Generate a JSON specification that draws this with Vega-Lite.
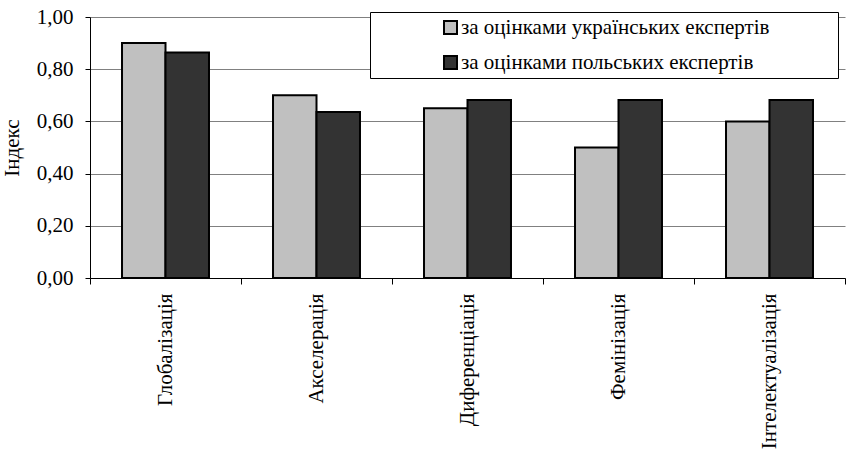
{
  "$schema": "https://vega.github.io/schema/vega-lite/v6.json",
  "width": 755,
  "height": 261,
  "autosize": "none",
  "padding": {"left": 90, "top": 17, "right": 2, "bottom": 171},
  "background": "white",
  "config": {
    "view": {"stroke": null},
    "font": "Liberation Serif"
  },
  "data": {
    "values": [
      {"category": "Глобалізація", "series": "за оцінками українських експертів", "value": 0.90},
      {"category": "Глобалізація", "series": "за оцінками польських експертів", "value": 0.864},
      {"category": "Акселерація", "series": "за оцінками українських експертів", "value": 0.70},
      {"category": "Акселерація", "series": "за оцінками польських експертів", "value": 0.636},
      {"category": "Диференціація", "series": "за оцінками українських експертів", "value": 0.65},
      {"category": "Диференціація", "series": "за оцінками польських експертів", "value": 0.682},
      {"category": "Фемінізація", "series": "за оцінками українських експертів", "value": 0.50},
      {"category": "Фемінізація", "series": "за оцінками польських експертів", "value": 0.682},
      {"category": "Інтелектуалізація", "series": "за оцінками українських експертів", "value": 0.60},
      {"category": "Інтелектуалізація", "series": "за оцінками польських експертів", "value": 0.682}
    ]
  },
  "mark": {"type": "bar", "stroke": "black", "strokeWidth": 2},
  "encoding": {
    "x": {
      "field": "category",
      "type": "nominal",
      "sort": null,
      "scale": {"paddingInner": 0, "paddingOuter": 0},
      "axis": {
        "title": null,
        "tickBand": "extent",
        "labelAngle": -90,
        "labelAlign": "right",
        "labelBaseline": "middle",
        "labelFont": "Liberation Serif",
        "labelFontSize": 21,
        "labelColor": "black",
        "labelPadding": 9,
        "labelLimit": 400,
        "domainColor": "black",
        "domainWidth": 1,
        "tickColor": "black",
        "tickSize": 6,
        "grid": false
      }
    },
    "xOffset": {
      "field": "series",
      "sort": null,
      "scale": {"paddingInner": 0, "paddingOuter": 0.736}
    },
    "y": {
      "field": "value",
      "type": "quantitative",
      "scale": {"domain": [0, 1], "nice": false},
      "axis": {
        "title": "Індекс",
        "titleFont": "Liberation Serif",
        "titleFontSize": 21,
        "titleFontWeight": "normal",
        "titleColor": "black",
        "titlePadding": 14,
        "values": [0, 0.2, 0.4, 0.6, 0.8, 1.0],
        "labelExpr": "replace(format(datum.value, '.2f'), '.', ',')",
        "labelFont": "Liberation Serif",
        "labelFontSize": 21,
        "labelColor": "black",
        "labelPadding": 12,
        "domainColor": "black",
        "tickColor": "black",
        "tickSize": 5,
        "gridColor": "#808080",
        "gridWidth": 1
      }
    },
    "fill": {
      "field": "series",
      "type": "nominal",
      "scale": {
        "domain": ["за оцінками українських експертів", "за оцінками польських експертів"],
        "range": ["#c0c0c0", "#333333"]
      },
      "legend": {
        "title": null,
        "orient": "none",
        "legendX": 280,
        "legendY": -5,
        "strokeColor": "black",
        "fillColor": "white",
        "padding": 5,
        "symbolType": "square",
        "symbolSize": 169,
        "symbolStrokeColor": "black",
        "symbolStrokeWidth": 2,
        "symbolOffset": 65,
        "labelOffset": 0,
        "labelExpr": "datum.label + '\u00a0\u00a0\u00a0\u00a0\u00a0\u00a0\u00a0\u00a0\u00a0\u00a0\u00a0\u00a0\u200b'",
        "labelFont": "Liberation Serif",
        "labelFontSize": 21,
        "labelColor": "black",
        "labelLimit": 600,
        "rowPadding": 13
      }
    }
  }
}
